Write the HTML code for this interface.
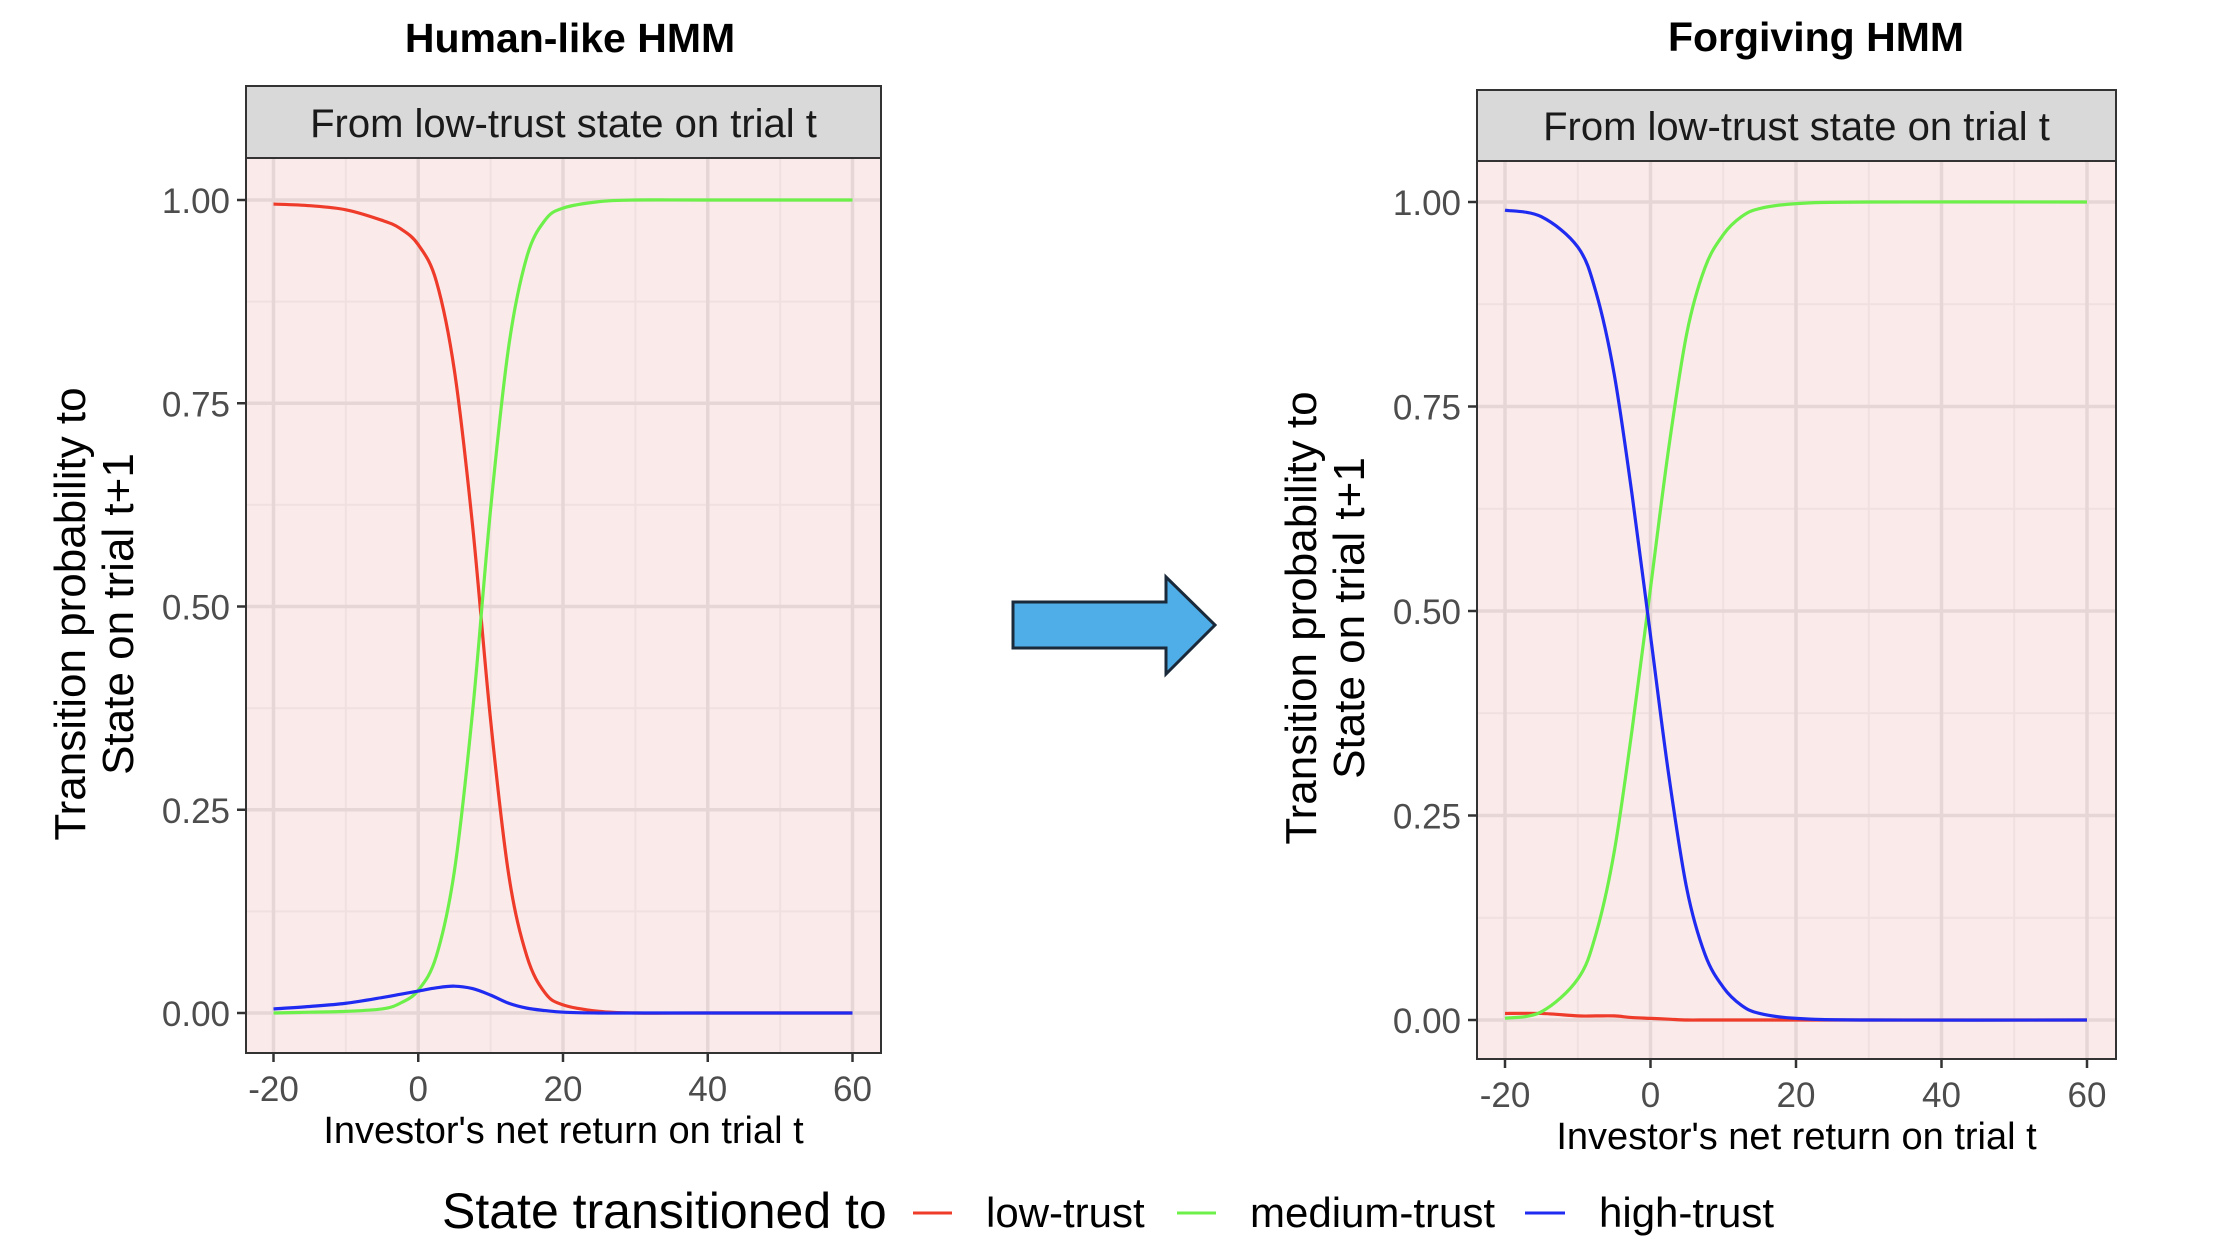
<!DOCTYPE html>
<html><head><meta charset="utf-8">
<style>
body{margin:0;background:#fff;}
svg{display:block;font-family:"Liberation Sans",sans-serif;}
</style></head>
<body>
<svg id="c" width="2228" height="1258" viewBox="0 0 2228 1258">
<text x="570" y="52" font-size="41" font-weight="bold" text-anchor="middle">Human-like HMM</text>
<text x="1816" y="51" font-size="41" font-weight="bold" text-anchor="middle">Forgiving  HMM</text>
<polygon points="1013,602 1166,602 1166,577 1215,625 1166,674 1166,648 1013,648" fill="#4FAEE8" stroke="#1a2a3a" stroke-width="3"/>
<g>
<text x="442" y="1228" font-size="50">State transitioned to</text>
<line x1="913" y1="1213" x2="952" y2="1213" stroke="#EE3B2A" stroke-width="3"/>
<text x="986" y="1227" font-size="42">low-trust</text>
<line x1="1177" y1="1213" x2="1216" y2="1213" stroke="#6EF04A" stroke-width="3"/>
<text x="1250" y="1227" font-size="42">medium-trust</text>
<line x1="1525" y1="1213" x2="1565" y2="1213" stroke="#1F2BF0" stroke-width="3"/>
<text x="1599" y="1227" font-size="42">high-trust</text>
</g>
</svg>
<script>
const xTicks=[-20,0,20,40,60];
const yTicks=[0,0.25,0.5,0.75,1];
const yTickLabels=["0.00","0.25","0.50","0.75","1.00"];
const leftX=[-20,-15,-10,-5,-2.5,0,2.5,5,7.5,10,12.5,15,17.5,20,25,30,40,60];
const leftLow=[0.995,0.993,0.988,0.975,0.965,0.945,0.9,0.79,0.6,0.36,0.17,0.07,0.025,0.01,0.002,0,0,0];
const leftMed=[0,0.001,0.002,0.005,0.012,0.028,0.07,0.175,0.37,0.62,0.82,0.93,0.975,0.99,0.998,1,1,1];
const leftHigh=[0.005,0.008,0.012,0.019,0.023,0.027,0.031,0.033,0.030,0.022,0.012,0.006,0.003,0.001,0,0,0,0];
const rightX=[-20,-15,-10,-7.5,-5,-2.5,0,2.5,5,7.5,10,12.5,15,20,30,60];
const rightHigh=[0.99,0.982,0.945,0.89,0.79,0.64,0.47,0.3,0.16,0.08,0.04,0.018,0.008,0.002,0,0];
const rightMed=[0.002,0.01,0.05,0.105,0.205,0.357,0.528,0.699,0.84,0.92,0.96,0.982,0.992,0.998,1,1];
const rightLow=[0.008,0.008,0.005,0.005,0.005,0.003,0.002,0.001,0,0,0,0,0,0,0,0];

const NS="http://www.w3.org/2000/svg";
const svg=document.getElementById('c');
function mk(tag,attrs,parent){const e=document.createElementNS(NS,tag);for(const k in attrs)e.setAttribute(k,attrs[k]);(parent||svg).appendChild(e);return e;}
function smooth(pts){let d="M"+pts[0][0]+","+pts[0][1];for(let i=0;i<pts.length-1;i++){const p0=pts[Math.max(0,i-1)],p1=pts[i],p2=pts[i+1],p3=pts[Math.min(pts.length-1,i+2)];const c1=[p1[0]+(p2[0]-p0[0])/6,p1[1]+(p2[1]-p0[1])/6],c2=[p2[0]-(p3[0]-p1[0])/6,p2[1]-(p3[1]-p1[1])/6];d+=" C"+c1[0]+","+c1[1]+" "+c2[0]+","+c2[1]+" "+p2[0]+","+p2[1];}return d;}

function panel(P,name,xs,series){
  const g=mk('g',{});
  
  
  const sx=v=>P.x0+(v+20)/80*(P.x1-P.x0);
  const sy=v=>P.y0+(1-v)*(P.y1-P.y0);
  const bg=mk('rect',{x:P.l,y:P.st,width:P.r-P.l,height:P.b-P.st,fill:'#FAEAEA'},g);
  
  
  [-10,10,30,50].forEach(v=>mk('line',{x1:sx(v),x2:sx(v),y1:P.st,y2:P.b,stroke:'#F0E0E0','stroke-width':2},g));
  [0.125,0.375,0.625,0.875].forEach(v=>mk('line',{x1:P.l,x2:P.r,y1:sy(v),y2:sy(v),stroke:'#F0E0E0','stroke-width':2},g));
  xTicks.forEach(v=>mk('line',{x1:sx(v),x2:sx(v),y1:P.st,y2:P.b,stroke:'#E6D6D6','stroke-width':3.5},g));
  yTicks.forEach(v=>mk('line',{x1:P.l,x2:P.r,y1:sy(v),y2:sy(v),stroke:'#E6D6D6','stroke-width':3.5},g));
  series.forEach(s=>{
    const p=mk('path',{d:smooth(xs.map((x,i)=>[sx(x),sy(s.v[i])])),fill:'none',stroke:s.c,'stroke-width':3.2},g);
    
    
  });
  mk('rect',{x:P.l,y:P.st,width:P.r-P.l,height:P.b-P.st,fill:'none',stroke:'#333','stroke-width':2},g);
  const strip=mk('rect',{x:P.l,y:P.t,width:P.r-P.l,height:P.st-P.t,fill:'#D9D9D9',stroke:'#333','stroke-width':2},g);
  
  
  const stt=mk('text',{x:(P.l+P.r)/2,y:P.st-21,'font-size':40,'text-anchor':'middle',fill:'#1a1a1a'},g);
  stt.textContent='From low-trust state on trial t';
  
  
  xTicks.forEach(v=>{
    mk('line',{x1:sx(v),x2:sx(v),y1:P.b,y2:P.b+9,stroke:'#333','stroke-width':2.5},g);
    const t=mk('text',{x:sx(v),y:P.b+48,'font-size':35,'text-anchor':'middle',fill:'#4d4d4d'},g);
    t.textContent=v;
    
    
  });
  yTicks.forEach((v,i)=>{
    mk('line',{x1:P.l-9,x2:P.l,y1:sy(v),y2:sy(v),stroke:'#333','stroke-width':2.5},g);
    const t=mk('text',{x:P.l-16,y:sy(v)+13,'font-size':35,'text-anchor':'end',fill:'#4d4d4d'},g);
    t.textContent=yTickLabels[i];
    
    
  });
  const xt=mk('text',{x:(P.l+P.r)/2,y:P.b+90,'font-size':38,'text-anchor':'middle'},g);
  xt.textContent="Investor's net return on trial t";
  
  
  const yt=mk('text',{transform:`translate(${P.ya},${P.yc}) rotate(-90)`,'font-size':44,'text-anchor':'middle'},g);
  
  
  const a=mk('tspan',{x:0,y:0},yt);a.textContent='Transition probability to';
  const b=mk('tspan',{x:0,y:48},yt);b.textContent='State on trial t+1';
}
panel({l:246,r:881,t:86,st:158,b:1053,x0:273.5,x1:852.5,y0:200,y1:1013,ya:85,yc:614},'left-panel',leftX,
  [{n:'line-low-trust',c:'#EE3B2A',v:leftLow},{n:'line-medium-trust',c:'#6EF04A',v:leftMed},{n:'line-high-trust',c:'#1F2BF0',v:leftHigh}]);
panel({l:1477,r:2116,t:90,st:161,b:1059,x0:1505,x1:2087,y0:202,y1:1020,ya:1316,yc:618},'right-panel',rightX,
  [{n:'line-low-trust',c:'#EE3B2A',v:rightLow},{n:'line-medium-trust',c:'#6EF04A',v:rightMed},{n:'line-high-trust',c:'#1F2BF0',v:rightHigh}]);
</script>
</body></html>
